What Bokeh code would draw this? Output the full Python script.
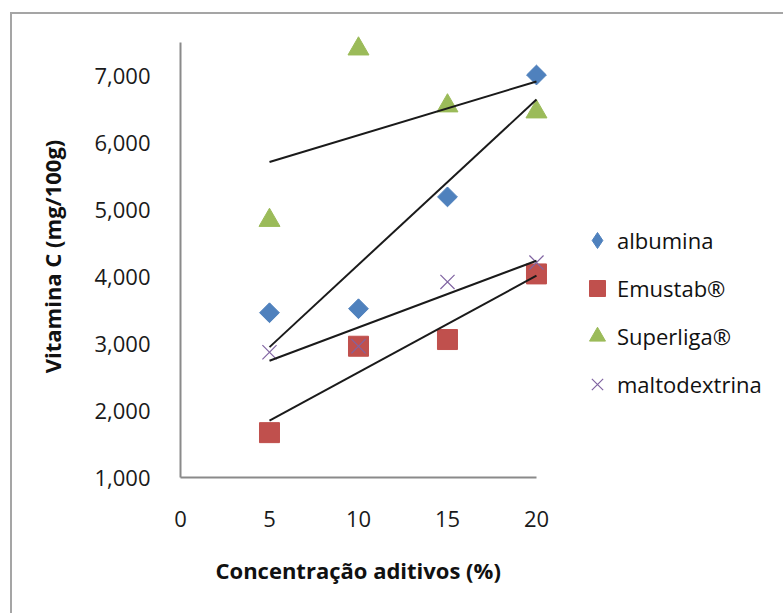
import numpy as np
from bokeh.plotting import figure
from bokeh.models import (Range1d, FixedTicker, NumeralTickFormatter, Legend, LegendItem, Title)
from bokeh.embed import file_html
from bokeh.resources import INLINE

# ---- data ----
concentracao = [5, 10, 15, 20]
albumina = [3460, 3520, 5190, 7010]
emustab = [1670, 2960, 3060, 4040]
superliga = [4840, 7400, 6550, 6460]
maltodextrina = [2870, 2960, 3920, 4210]

series_names = ["albumina", "Emustab\u00ae", "Superliga\u00ae", "maltodextrina"]
x_ticks = [0, 5, 10, 15, 20]
y_ticks = [1000, 2000, 3000, 4000, 5000, 6000, 7000]

FONT = "Open Sans"
BORDER = "#a5a5a5"

# the frame reaches to the right edge so that the legend (drawn inside it) is not clipped;
# the x axis line itself stops at 20 through its bounds
p = figure(width=783, height=613, output_backend="svg", toolbar_location=None,
           x_range=Range1d(0, 33.71), y_range=Range1d(1000, 7600),
           min_border_left=180, min_border_right=3, min_border_top=35, min_border_bottom=136)
p.outline_line_color = None
p.xgrid.visible = False
p.ygrid.visible = False
p.background_fill_color = None
p.border_fill_color = None
p.styles = {
    "background": (f"linear-gradient({BORDER},{BORDER}) 10px 12px / 2px 100% no-repeat, "
                   f"linear-gradient({BORDER},{BORDER}) 10px 12px / 100% 2px no-repeat, #ffffff"),
}

for ax in (p.xaxis[0], p.yaxis[0]):
    ax.axis_line_color = "#8a8a8a"
    ax.axis_line_width = 2
    ax.major_tick_line_color = None
    ax.minor_tick_line_color = None
    ax.major_label_text_font = FONT
    ax.major_label_text_font_size = "22px"
    ax.major_label_text_color = "#1a1a1a"
    ax.axis_label_text_font = FONT
    ax.axis_label_text_font_style = "bold"
    ax.axis_label_text_font_size = "22px"
    ax.axis_label_text_color = "#111111"

p.xaxis.bounds = (0, 20)
p.yaxis.bounds = (1000, 7500)
p.xaxis.ticker = FixedTicker(ticks=x_ticks)
p.yaxis.ticker = FixedTicker(ticks=y_ticks)
p.yaxis.formatter = NumeralTickFormatter(format="0,0")
p.xaxis.axis_label = ""
p.yaxis.axis_label = "Vitamina C (mg/100g)"
p.xaxis.major_label_standoff = 27
p.yaxis.major_label_standoff = 24
p.yaxis.axis_label_standoff = 24

# x axis title centred under the 0-20 span (not under the whole frame)
xt = Title(text="Concentra\u00e7\u00e3o aditivos (%)", align="left",
           text_font=FONT, text_font_style="bold", text_font_size="22px",
           text_color="#111111", offset=35, standoff=46)
p.add_layout(xt, "below")

# markers
r1 = p.scatter(concentracao, albumina, marker="square", angle=np.pi / 4, size=14,
               fill_color="#4F81BD", line_color="#4F81BD")
r2 = p.scatter(concentracao, emustab, marker="square", size=20,
               fill_color="#C0504D", line_color="#C0504D")
r3 = p.scatter(concentracao, superliga, marker="triangle", size=21,
               fill_color="#9BBB59", line_color="#9BBB59")
r4 = p.scatter(concentracao, maltodextrina, marker="x", size=20,
               line_color="#8064A2", line_width=1.2)
# legend symbol for albumina (a diamond; the legend does not rotate markers)
r1_key = p.scatter(concentracao[:1], albumina[:1], marker="diamond", size=20,
                   fill_color="#4F81BD", line_color="#4F81BD", visible=False)

# linear trendlines (least squares of each series)
xs = np.array(concentracao, dtype=float)
for ys in (albumina, emustab, superliga, maltodextrina):
    m, b = np.polyfit(xs, np.array(ys, dtype=float), 1)
    xe = [xs.min(), xs.max()]
    p.line(xe, [m * xe[0] + b, m * xe[1] + b], line_color="#1a1a1a", line_width=2)

legend = Legend(items=[LegendItem(label=n, renderers=[r]) for n, r in
                       zip(series_names, [r1_key, r2, r3, r4])],
                location=(397, 70))
legend.border_line_color = None
legend.background_fill_alpha = 0
legend.label_text_font = FONT
legend.label_text_font_size = "22px"
legend.label_text_color = "#111111"
legend.glyph_width = 40
legend.glyph_height = 46
legend.label_standoff = 0
legend.spacing = 2
legend.padding = 0
legend.margin = 0
p.add_layout(legend, "center")

open("out.html", "w").write(file_html(p, INLINE))
